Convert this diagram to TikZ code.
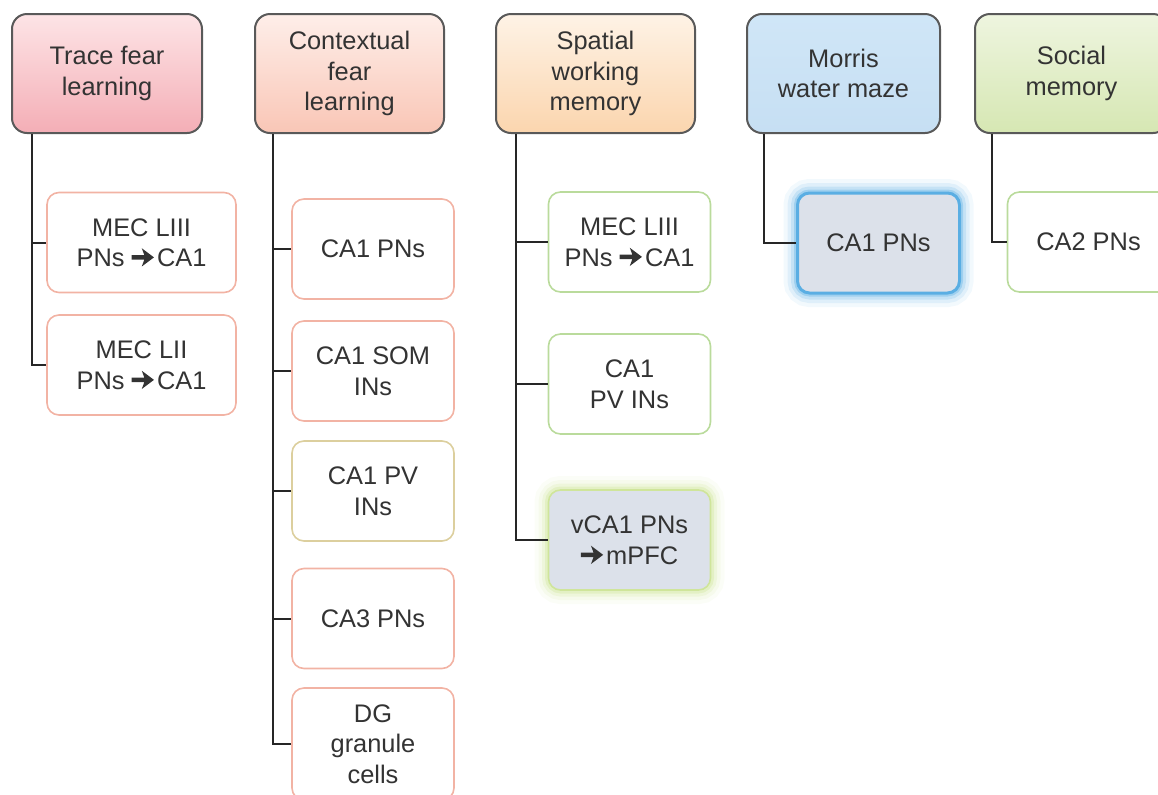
\documentclass[tikz,border=0pt]{standalone}
\usepackage{fontspec}
\setmainfont{Liberation Sans}
\usepackage{xcolor}
\usetikzlibrary{positioning, calc}

\definecolor{tracetop}{HTML}{FDE4E6}
\definecolor{tracebot}{HTML}{F4AEB6}
\definecolor{ctxtop}{HTML}{FEEEE9}
\definecolor{ctxbot}{HTML}{F9C6B6}
\definecolor{spatop}{HTML}{FEF3E6}
\definecolor{spabot}{HTML}{FBD5AE}
\definecolor{morristop}{HTML}{D0E6F7}
\definecolor{morrisbot}{HTML}{C6DFF3}
\definecolor{socialtop}{HTML}{EEF5DF}
\definecolor{socialbot}{HTML}{D6E7B3}
\definecolor{salmonedge}{HTML}{F2B3A4}
\definecolor{oliveedge}{HTML}{DCCF9E}
\definecolor{greenedge}{HTML}{BADB9C}
\definecolor{hilitefill}{HTML}{DCE1EA}
\definecolor{blueglow}{HTML}{5AAEE3}
\definecolor{greenglow}{HTML}{CFE59A}
\definecolor{textgray}{HTML}{333333}

% heavy arrow glyph, drawn in em units
\newcommand{\toarrow}{\tikz[baseline=0pt, x=1em, y=1em, sharp corners]
  \fill[textgray, draw=none] (0,0.27) -- (0.5,0.27) -- (0.4,0) -- (0.88,0.36)
    -- (0.4,0.72) -- (0.5,0.45) -- (0,0.45) -- cycle;}

\tikzset{
  taskbox/.style={
    draw=black!65, rounded corners=7.5pt, line width=1pt, align=center,
    text=textgray, font=\fontsize{12.7}{15.25}\selectfont,
    minimum height=59.5pt, inner sep=2pt
  },
  cellbox/.style={
    draw=#1, rounded corners=6pt, line width=0.8pt, align=center,
    text=textgray, font=\fontsize{12.7}{15.25}\selectfont,
    fill=white, minimum width=81pt, minimum height=50pt, inner sep=2pt
  },
  cellboxwide/.style={
    cellbox=#1, minimum width=94.5pt
  },
  glowbox/.style={
    cellbox=#1, fill=hilitefill,
    preaction={draw=#1, draw opacity=0.08, line width=14pt},
    preaction={draw=#1, draw opacity=0.12, line width=10pt},
    preaction={draw=#1, draw opacity=0.2, line width=6.5pt},
    preaction={draw=#1, draw opacity=0.35, line width=3.5pt}
  },
  spine/.style={draw=black!85, line width=1pt},
}

\begin{document}
\begin{tikzpicture}[x=0.5pt, y=-0.5pt]
  \useasboundingbox (0,0) rectangle (1158,794);

  % -- task headers --
  \node[taskbox, top color=tracetop, bottom color=tracebot, minimum width=95pt]
    (trace) at (107,73.5) {Trace fear\\learning};
  \node[taskbox, top color=ctxtop, bottom color=ctxbot, minimum width=94.5pt]
    (ctx) at (349.5,73.5) {Contextual\\fear\\learning};
  \node[taskbox, top color=spatop, bottom color=spabot, minimum width=99.5pt]
    (spatial) at (595.5,73.5) {Spatial\\working\\memory};
  \node[taskbox, top color=morristop, bottom color=morrisbot, minimum width=96.5pt]
    (morris) at (843.5,73.5) {Morris\\water maze};
  \node[taskbox, top color=socialtop, bottom color=socialbot, minimum width=96.5pt]
    (social) at (1071.5,73.5) {Social\\memory};

  % -- trace fear cells --
  \node[cellboxwide=salmonedge] (tracemec3) at (141.5,242.5)
    {MEC LIII\\PNs \toarrow\hspace{0.12em}CA1};
  \node[cellboxwide=salmonedge] (tracemec2) at (141.5,365)
    {MEC LII\\PNs \toarrow\hspace{0.12em}CA1};

  % -- contextual fear cells --
  \node[cellbox=salmonedge] (ctxpn) at (373,249) {CA1 PNs};
  \node[cellbox=salmonedge] (ctxsom) at (373,371) {CA1 SOM\\INs};
  \node[cellbox=oliveedge] (ctxpv) at (373,491) {CA1 PV\\INs};
  \node[cellbox=salmonedge] (ctxca3) at (373,618.5) {CA3 PNs};
  \node[cellbox=salmonedge, minimum height=56pt] (ctxdg) at (373,744)
    {DG\\granule\\cells};

  % -- spatial working memory cells --
  \node[cellbox=greenedge] (spamec3) at (629.5,242)
    {MEC LIII\\PNs \toarrow\hspace{0.12em}CA1};
  \node[cellbox=greenedge] (spapv) at (629.5,384) {CA1\\PV INs};
  \node[glowbox=greenglow] (spavca) at (629.5,540)
    {vCA1 PNs\\\toarrow\hspace{0.12em}mPFC};

  % -- morris and social cells --
  \node[glowbox=blueglow, line width=1.5pt] (morrispn) at (878.5,243) {CA1 PNs};
  \node[cellbox=greenedge] (socialca2) at (1088.5,242) {CA2 PNs};

  % -- spines --
  \draw[spine] ([xshift=10.5pt]trace.south west) |- (tracemec2.west);
  \draw[spine] ([xshift=10.5pt]trace.south west) |- (tracemec3.west);
  \draw[spine] ([xshift=9.5pt]ctx.south west) |- (ctxdg.west);
  \foreach \cell in {ctxpn, ctxsom, ctxpv, ctxca3}
    \draw[spine] ([xshift=9.5pt]ctx.south west) |- (\cell.west);
  \draw[spine] ([xshift=10.5pt]spatial.south west) |- (spavca.west);
  \foreach \cell in {spamec3, spapv}
    \draw[spine] ([xshift=10.5pt]spatial.south west) |- (\cell.west);
  \draw[spine] ([xshift=9pt]morris.south west) |- (morrispn.west);
  \draw[spine] ([xshift=9pt]social.south west) |- (socialca2.west);
\end{tikzpicture}
\end{document}
